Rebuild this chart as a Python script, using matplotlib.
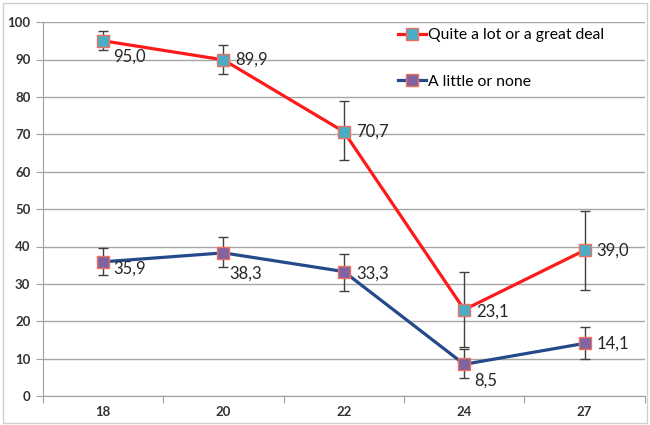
"""Recreate the two-series line chart with error bars."""

import matplotlib

matplotlib.use("Agg")
import matplotlib.pyplot as plt
from matplotlib.patches import Rectangle

plt.rcParams["font.family"] = ["Lato", "DejaVu Sans"]

ages = ["18", "20", "22", "24", "27"]
great_deal = [95.0, 89.9, 70.7, 23.1, 39.0]
great_deal_lo = [92.5, 86.0, 63.0, 13.0, 28.5]
great_deal_hi = [97.5, 94.0, 79.0, 33.3, 49.5]
little = [35.9, 38.3, 33.3, 8.5, 14.1]
little_lo = [32.5, 34.5, 28.0, 4.8, 9.8]
little_hi = [39.5, 42.5, 38.0, 12.5, 18.5]

great_offsets = [(10, -16), (12, 0), (12, 0), (12, -2), (12, 0)]
little_offsets = [(10, -7), (6, -21), (12, -2), (10, -16), (12, 0)]


def main() -> None:
    fig = plt.figure(figsize=(6.5, 4.25), dpi=100)
    fig.patches.append(Rectangle((0.004, 0.004), 0.992, 0.99, transform=fig.transFigure,
                                 fill=False, edgecolor="#d0d0d0", lw=1.0))
    ax = fig.add_axes([0.066, 0.068, 0.926, 0.880])
    x = list(range(len(ages)))

    series = [
        ("Quite a lot or a great deal", great_deal, great_deal_lo, great_deal_hi,
         "#ff1a1a", "#4bacc6", great_offsets),
        ("A little or none", little, little_lo, little_hi,
         "#254a8c", "#8064a2", little_offsets),
    ]
    for label, vals, lo, hi, line_c, face_c, offsets in series:
        err = [[v - l for v, l in zip(vals, lo)], [h - v for v, h in zip(vals, hi)]]
        ax.errorbar(x, vals, yerr=err, fmt="none", ecolor="#404040", elinewidth=1.0,
                    capsize=3.5, capthick=1.0, zorder=2)
        ax.plot(x, vals, color=line_c, lw=2.3, marker="s", markersize=9,
                markerfacecolor=face_c, markeredgecolor="#f07060", markeredgewidth=1.0,
                label=label, zorder=3)
        for xi, v, off in zip(x, vals, offsets):
            ax.annotate(f"{v:.1f}".replace(".", ","), (xi, v), xytext=off,
                        textcoords="offset pixels", ha="left", va="center",
                        fontsize=12, color="#262626")

    ax.set_xlim(-0.5, len(ages) - 0.5)
    ax.set_ylim(0, 100)
    ax.set_yticks(range(0, 101, 10))
    ax.set_xticks([i - 0.5 for i in range(len(ages) + 1)])
    ax.set_xticklabels([])
    ax.set_xticks(x, minor=True)
    ax.set_xticklabels(ages, minor=True)
    ax.tick_params(axis="x", which="minor", length=0, pad=7, labelsize=9.5)
    ax.tick_params(axis="x", which="major", length=5, color="#a0a0a0")
    ax.tick_params(axis="y", length=5, color="#a0a0a0", labelsize=9.5, pad=4)
    for lbl in ax.get_xticklabels(minor=True) + ax.get_yticklabels():
        lbl.set_fontweight("bold")
        lbl.set_color("#333333")

    ax.grid(axis="y", color="#a6a6a6", lw=1.0)
    ax.set_axisbelow(True)
    for side in ["top", "right"]:
        ax.spines[side].set_visible(False)
    for side in ["left", "bottom"]:
        ax.spines[side].set_color("#a0a0a0")

    ax.legend(loc="upper left", bbox_to_anchor=(398 / 650, 1 - 28 / 425),
              bbox_transform=fig.transFigure, frameon=False, fontsize=11.3,
              handlelength=1.8, handletextpad=0.1, labelspacing=2.1,
              borderaxespad=0, borderpad=0)

    fig.savefig("out.png", dpi=100)
    plt.close(fig)


if __name__ == "__main__":
    main()
